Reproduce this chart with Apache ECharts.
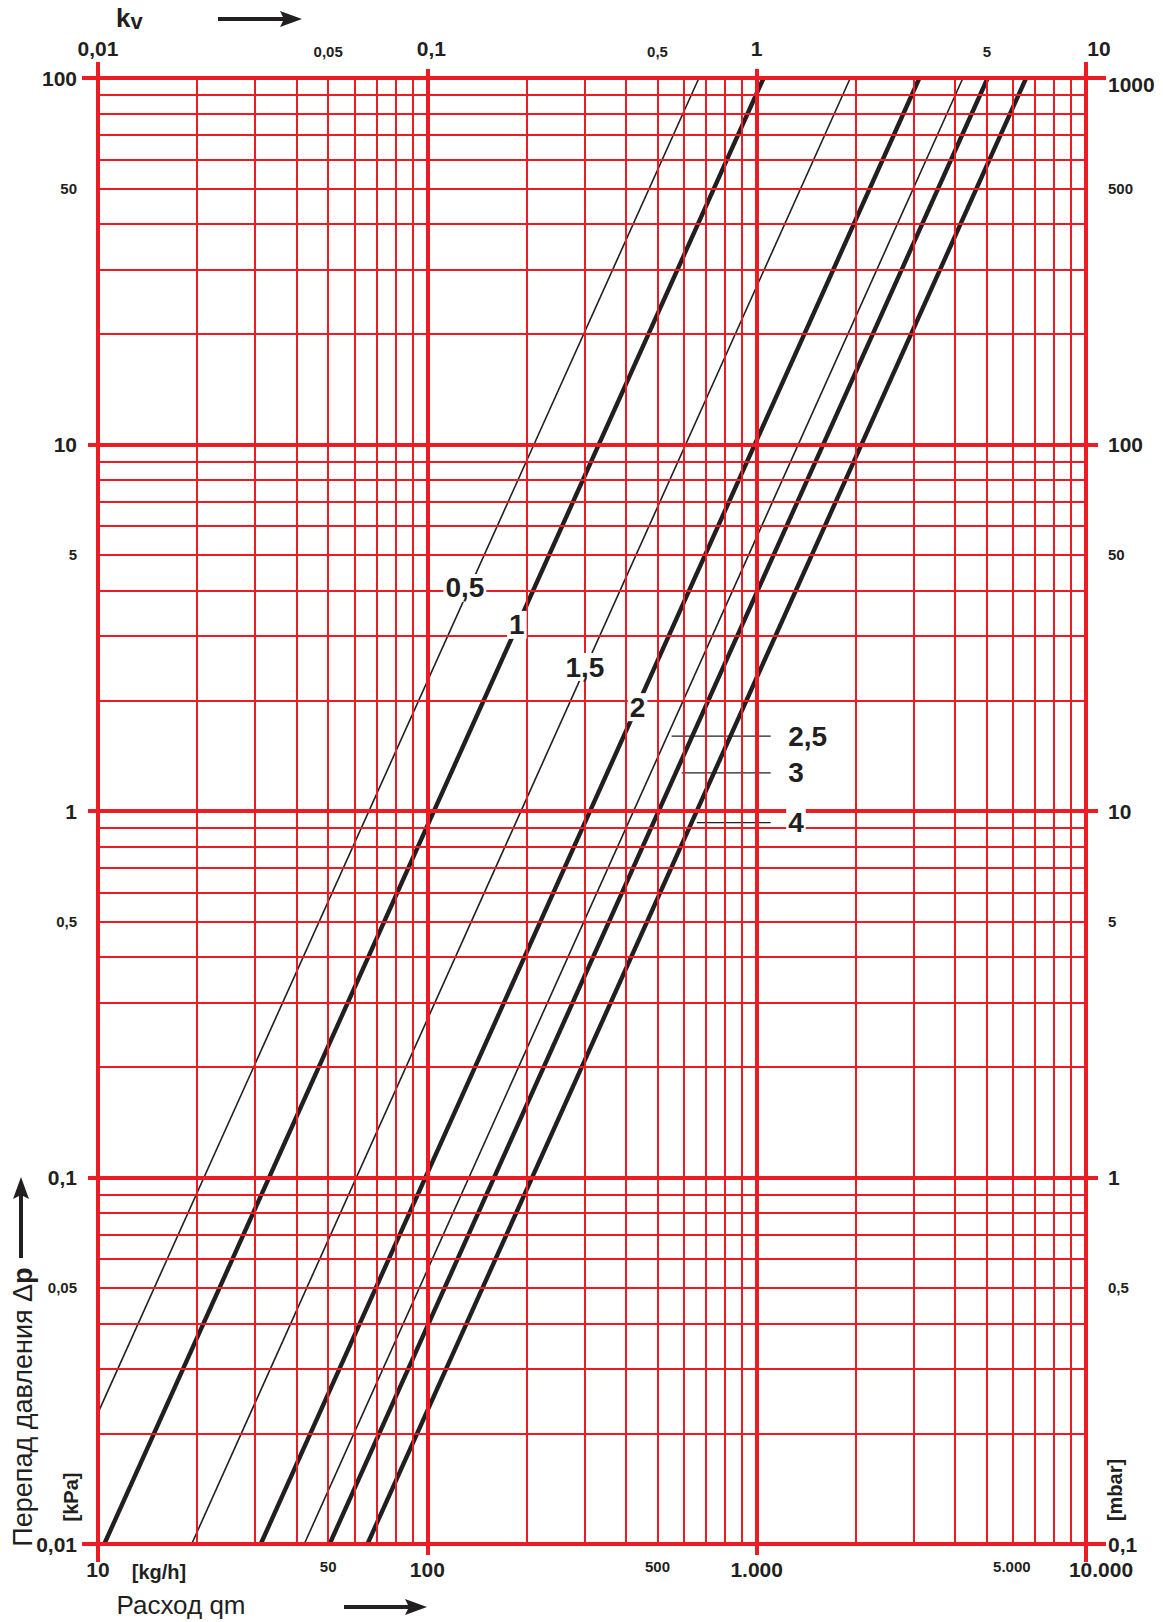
<!DOCTYPE html>
<html>
<head>
<meta charset="utf-8">
<script src="https://cdn.jsdelivr.net/npm/echarts@6/dist/echarts.min.js"></script>
<style>html,body{margin:0;padding:0;background:#fff}#chart{width:1163px;height:1622px}</style>
</head>
<body>
<div id="chart"></div>
<script>
// ---- data ----
const curveLabels   = ['0,5', '1', '1,5', '2', '2,5', '3', '4'];
const curveQmStart  = [10, 10.45, 19.25, 31.2, 42.3, 50.5, 65.8];
const curveDpStart  = [0.0228, 0.01, 0.01, 0.01, 0.01, 0.01, 0.01];
const curveQmEnd    = [668, 1050, 1925, 3120, 4230, 5030, 6580];
const curveDpEnd    = [100, 100, 100, 100, 100, 100, 100];

const inlineLabelText = ['0,5', '1', '1,5', '2'];
const inlineLabelQm   = [130, 187, 301, 435];
const inlineLabelDp   = [4.06, 3.22, 2.47, 1.92];

const leaderText    = ['2,5', '3', '4'];
const leaderQmStart = [552, 592, 658];
const leaderQmEnd   = [1103, 1103, 1103];
const leaderDp      = [1.60, 1.27, 0.93];

const qmTickValues  = [10, 50, 100, 500, 1000, 5000, 10000];
const qmTickText    = ['10', '50', '100', '500', '1.000', '5.000', '10.000'];
const kvTickValues  = [0.01, 0.05, 0.1, 0.5, 1, 5, 10];
const kvTickText    = ['0,01', '0,05', '0,1', '0,5', '1', '5', '10'];
const dpTickValues  = [0.01, 0.05, 0.1, 0.5, 1, 5, 10, 50, 100];
const dpTickText    = ['0,01', '0,05', '0,1', '0,5', '1', '5', '10', '50', '100'];
const mbarTickValues = [0.1, 0.5, 1, 5, 10, 50, 100, 500, 1000];
const mbarTickText   = ['0,1', '0,5', '1', '5', '10', '50', '100', '500', '1000'];

const qmGridLines = [10, 20, 30, 40, 50, 60, 70, 80, 90,
  100, 200, 300, 400, 500, 600, 700, 800, 900,
  1000, 2000, 3000, 4000, 5000, 6000, 7000, 8000, 9000, 10000];
const dpGridLines = [0.01, 0.02, 0.03, 0.04, 0.05, 0.06, 0.07, 0.08, 0.09,
  0.1, 0.2, 0.3, 0.4, 0.5, 0.6, 0.7, 0.8, 0.9,
  1, 2, 3, 4, 5, 6, 7, 8, 9,
  10, 20, 30, 40, 50, 60, 70, 80, 90, 100];

// ---- styles ----
const RED = '#ed1c24';
const BLK = '#231f20';
const FONT = "'Liberation Sans', Arial, Helvetica, sans-serif";
const curveWidths = [1.6, 4.4, 1.6, 4.4, 1.6, 4.4, 4.4];

function isDecade(v) {
  const l = Math.log10(v);
  return Math.abs(l - Math.round(l)) < 1e-6;
}
function lookup(values, texts, v) {
  const i = values.findIndex(x => Math.abs(Math.log10(x) - Math.log10(v)) < 1e-6);
  return i < 0 ? '' : texts[i];
}
const richBase = {
  big:   { fontSize: 21, fontWeight: 'bold', color: BLK, fontFamily: FONT },
  small: { fontSize: 15, fontWeight: 'bold', color: BLK, fontFamily: FONT }
};
function makeFormatter(values, texts, special) {
  return function (v) {
    const t = lookup(values, texts, v);
    const key = special && special(v);
    if (key) return '{' + key + '|' + t + '}';
    return isDecade(v) ? '{big|' + t + '}' : '{small|' + t + '}';
  };
}
const near = (a, b) => Math.abs(Math.log10(a) - Math.log10(b)) < 1e-6;

function logAxis(extra) {
  return Object.assign({
    type: 'log', logBase: 10,
    axisLine: { show: false },
    splitLine: { show: false },
    minorTick: { show: false },
    minorSplitLine: { show: false }
  }, extra);
}

const xAxes = [
  logAxis({ min: 10, max: 10000, position: 'bottom',
    axisTick: { show: true, length: 11, customValues: [100, 1000], lineStyle: { color: RED, width: 4 } },
    axisLabel: { show: true, margin: 15, customValues: qmTickValues, showMinLabel: true, showMaxLabel: true,
      formatter: makeFormatter(qmTickValues, qmTickText, v => near(v, 10000) ? 'bigR' : (near(v, 5000) ? 'smallR' : null)),
      rich: Object.assign({}, richBase, {
        bigR: Object.assign({}, richBase.big, { padding: [0, 0, 0, 30] }),
        smallR: Object.assign({}, richBase.small, { padding: [0, 0, 0, 50] })
      }) } }),
  logAxis({ min: 0.01, max: 10, position: 'top',
    axisTick: { show: true, length: 9, customValues: [0.1, 1], lineStyle: { color: RED, width: 4 } },
    axisLabel: { show: true, margin: 19, customValues: kvTickValues, showMinLabel: true, showMaxLabel: true,
      formatter: makeFormatter(kvTickValues, kvTickText, v => near(v, 10) ? 'bigR' : (near(v, 0.1) ? 'bigR2' : null)),
      rich: Object.assign({}, richBase, {
        bigR: Object.assign({}, richBase.big, { padding: [0, 0, 0, 26] }),
        bigR2: Object.assign({}, richBase.big, { padding: [0, 0, 0, 8] })
      }) } }),
  logAxis({ min: 10, max: 10000, position: 'bottom',
    axisTick: { show: true, length: 18, customValues: [10, 10000], lineStyle: { color: RED, width: 4 } },
    axisLabel: { show: false } }),
  logAxis({ min: 0.01, max: 10, position: 'top',
    axisTick: { show: true, length: 16, customValues: [0.01, 10], lineStyle: { color: RED, width: 4 } },
    axisLabel: { show: false } })
];

const yAxes = [
  logAxis({ min: 0.01, max: 100, position: 'left',
    axisTick: { show: true, length: 10, customValues: [0.1, 1, 10], lineStyle: { color: RED, width: 4 } },
    axisLabel: { show: true, margin: 21, customValues: dpTickValues, showMinLabel: true, showMaxLabel: true,
      formatter: makeFormatter(dpTickValues, dpTickText), rich: richBase } }),
  logAxis({ min: 0.1, max: 1000, position: 'right',
    axisTick: { show: true, length: 12, customValues: [1, 10, 100], lineStyle: { color: RED, width: 4 } },
    axisLabel: { show: true, margin: 22, customValues: mbarTickValues, showMinLabel: true, showMaxLabel: true,
      formatter: makeFormatter(mbarTickValues, mbarTickText, v => near(v, 1000) ? 'bigD' : null),
      rich: Object.assign({}, richBase, {
        bigD: Object.assign({}, richBase.big, { padding: [12, 0, 0, 0] })
      }) } }),
  logAxis({ min: 0.01, max: 100, position: 'left',
    axisTick: { show: true, length: 16, customValues: [0.01, 100], lineStyle: { color: RED, width: 4 } },
    axisLabel: { show: false } }),
  logAxis({ min: 0.1, max: 1000, position: 'right',
    axisTick: { show: true, length: 20, customValues: [0.1, 1000], lineStyle: { color: RED, width: 4 } },
    axisLabel: { show: false } })
];

const gridLineData = [];
qmGridLines.forEach(v => gridLineData.push({ xAxis: v, lineStyle: { color: RED, width: isDecade(v) ? 4 : 2, type: 'solid' } }));
dpGridLines.forEach(v => gridLineData.push({ yAxis: v, lineStyle: { color: RED, width: isDecade(v) ? 4 : 2, type: 'solid' } }));

const series = [];
series.push({
  type: 'line', name: 'grid', data: [], xAxisIndex: 0, yAxisIndex: 0, z: 1, silent: true,
  markLine: { silent: true, symbol: ['none', 'none'], label: { show: false }, animation: false,
    lineStyle: { type: 'solid' }, emphasis: { disabled: true }, data: gridLineData }
});
curveLabels.forEach((name, i) => {
  series.push({
    type: 'line', name: 'kv ' + name, xAxisIndex: 0, yAxisIndex: 0, z: 3, silent: true,
    symbol: 'none', showSymbol: false,
    lineStyle: { color: BLK, width: curveWidths[i], cap: 'butt' },
    data: [[curveQmStart[i], curveDpStart[i]], [curveQmEnd[i], curveDpEnd[i]]]
  });
});
leaderText.forEach((name, i) => {
  series.push({
    type: 'line', name: 'leader ' + name, xAxisIndex: 0, yAxisIndex: 0, z: 3, silent: true,
    symbol: 'none', showSymbol: false,
    lineStyle: { color: BLK, width: 1.3 },
    data: [[leaderQmStart[i], leaderDp[i]], [leaderQmEnd[i], leaderDp[i]]]
  });
});
const labelStyle = { show: true, formatter: '{b}', fontSize: 28, fontWeight: 'bold', color: BLK,
  opacity: 1, fontFamily: FONT, backgroundColor: '#ffffff', padding: [0, 2, 0, 2] };
series.push({
  type: 'scatter', name: 'inline labels', xAxisIndex: 0, yAxisIndex: 0, z: 5, silent: true,
  symbolSize: 1, itemStyle: { color: 'rgba(255,255,255,0)', opacity: 1 },
  label: Object.assign({ position: 'inside' }, labelStyle),
  data: inlineLabelText.map((t, i) => ({ name: t, value: [inlineLabelQm[i], inlineLabelDp[i]] }))
});
series.push({
  type: 'scatter', name: 'leader labels', xAxisIndex: 0, yAxisIndex: 0, z: 5, silent: true,
  symbolSize: 1, itemStyle: { color: 'rgba(255,255,255,0)', opacity: 1 },
  label: Object.assign({ position: 'right', distance: 15 }, labelStyle),
  data: leaderText.map((t, i) => ({ name: t, value: [leaderQmEnd[i], leaderDp[i]] }))
});

const graphic = [
  { type: 'text', x: 116, y: 18, silent: true,
    style: { text: '{k|k}{v|v}', textVerticalAlign: 'middle', verticalAlign: 'middle',
      rich: { k: { fontSize: 26, fontWeight: 'bold', fontFamily: FONT, fill: BLK },
              v: { fontSize: 22, fontWeight: 'bold', fontFamily: FONT, fill: BLK, padding: [6, 0, 0, 0] } } } },
  { type: 'line', silent: true, shape: { x1: 218, y1: 19, x2: 286, y2: 19 }, style: { stroke: BLK, lineWidth: 4 } },
  { type: 'polygon', silent: true, shape: { points: [[280, 11], [302, 19], [280, 27], [284, 19]] }, style: { fill: BLK } },

  { type: 'line', silent: true, shape: { x1: 344, y1: 1607, x2: 412, y2: 1607 }, style: { stroke: BLK, lineWidth: 4 } },
  { type: 'polygon', silent: true, shape: { points: [[405, 1599], [427, 1607], [405, 1615], [409, 1607]] }, style: { fill: BLK } },

  { type: 'line', silent: true, shape: { x1: 21, y1: 1258, x2: 21, y2: 1192 }, style: { stroke: BLK, lineWidth: 4 } },
  { type: 'polygon', silent: true, shape: { points: [[13, 1199], [21, 1177], [29, 1199], [21, 1195]] }, style: { fill: BLK } },

  { type: 'text', x: 23, y: 1407, rotation: Math.PI / 2, silent: true,
    style: { text: 'Перепад давления Δ{b|p}', fontSize: 27, fontFamily: FONT, fill: BLK,
      textAlign: 'center', align: 'center', textVerticalAlign: 'middle', verticalAlign: 'middle',
      rich: { b: { fontSize: 27, fontWeight: 'bold', fontFamily: FONT, fill: BLK } } } },
  { type: 'text', x: 71, y: 1497, rotation: Math.PI / 2, silent: true,
    style: { text: '[kPa]', fontSize: 20, fontWeight: 'bold', fontFamily: FONT, fill: BLK,
      textAlign: 'center', align: 'center', textVerticalAlign: 'middle', verticalAlign: 'middle' } },
  { type: 'text', x: 1115, y: 1490, rotation: Math.PI / 2, silent: true,
    style: { text: '[mbar]', fontSize: 20, fontWeight: 'bold', fontFamily: FONT, fill: BLK,
      textAlign: 'center', align: 'center', textVerticalAlign: 'middle', verticalAlign: 'middle' } },
  { type: 'text', x: 181, y: 1605, silent: true,
    style: { text: 'Расход qm', fontSize: 26, fontFamily: FONT, fill: BLK,
      textAlign: 'center', align: 'center', textVerticalAlign: 'middle', verticalAlign: 'middle' } },
  { type: 'text', x: 159, y: 1572, silent: true,
    style: { text: '[kg/h]', fontSize: 20, fontWeight: 'bold', fontFamily: FONT, fill: BLK,
      textAlign: 'center', align: 'center', textVerticalAlign: 'middle', verticalAlign: 'middle' } }
];

const chart = echarts.init(document.getElementById('chart'), null, { renderer: 'svg' });
chart.setOption({
  animation: false,
  backgroundColor: '#ffffff',
  textStyle: { fontFamily: FONT },
  grid: { left: 98, top: 78, width: 988, height: 1466, containLabel: false, outerBoundsMode: 'none' },
  xAxis: xAxes,
  yAxis: yAxes,
  series: series,
  graphic: graphic
});
</script>
</body>
</html>
